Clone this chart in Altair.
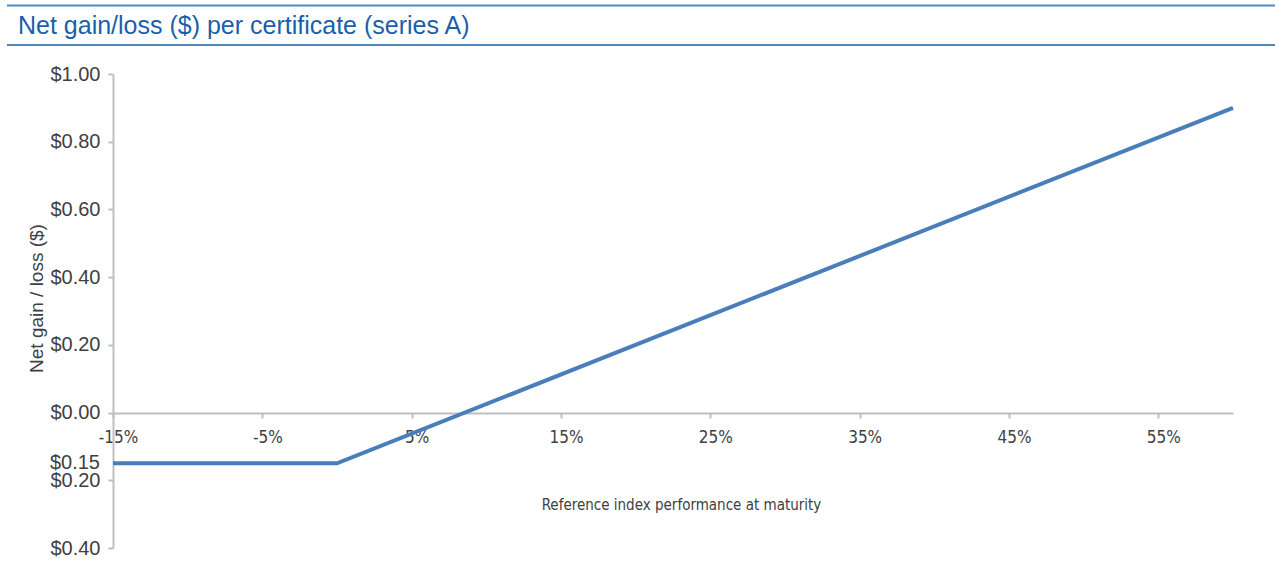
import altair as alt
import pandas as pd

# ---- data ----
perf_pct = [-15, 0, 60]              # reference index performance at maturity (%)
net_gain = [-0.15, -0.15, 0.90]      # net gain / loss ($)
x_tick_values = [-15, -5, 5, 15, 25, 35, 45, 55]
y_tick_values = [-0.4, -0.2, 0.0, 0.2, 0.4, 0.6, 0.8, 1.0]
extra_label_value = [-0.15]
extra_label_text = ["$0.15"]
chart_title = ["Net gain/loss ($) per certificate (series A)"]
x_title = "Reference index performance at maturity"
y_title = "Net gain / loss ($)"

line_df = pd.DataFrame({"perf": perf_pct, "gain": net_gain})
extra_df = pd.DataFrame({"gain": extra_label_value, "label": extra_label_text})
title_df = pd.DataFrame({"t": chart_title})

W, H = 1120, 474
LABEL_COLOR = "#404040"
AXIS_GRAY = "#bfbfbf"
BLUE_RULE = "#4f87c1"
COND = "DejaVu Sans Condensed"

x_enc = alt.X(
    "perf:Q",
    scale=alt.Scale(domain=[-15, 60], nice=False, zero=False),
    axis=alt.Axis(
        values=x_tick_values,
        labelExpr="datum.value + '%'",
        offset=-135,
        grid=False,
        domainColor=AXIS_GRAY, domainWidth=2,
        tickColor=AXIS_GRAY, tickWidth=2, tickSize=5,
        labelFont=COND, labelFontSize=17, labelColor=LABEL_COLOR,
        labelPadding=11, labelOffset=5, labelFlush=False,
        title=x_title, titleFont=COND, titleFontSize=15,
        titleFontWeight="normal", titleColor=LABEL_COLOR, titlePadding=52,
        titleX=568,
    ),
)
y_enc = alt.Y(
    "gain:Q",
    scale=alt.Scale(domain=[-0.4, 1.0], nice=False, zero=False),
    axis=alt.Axis(
        values=y_tick_values,
        labelExpr="'$' + format(abs(datum.value), '.2f')",
        grid=False,
        domainColor=AXIS_GRAY, domainWidth=2,
        tickColor=AXIS_GRAY, tickWidth=2, tickSize=5,
        labelFont="Liberation Sans", labelFontSize=20, labelColor=LABEL_COLOR,
        labelPadding=8,
        title=y_title, titleFont="Liberation Sans", titleFontSize=19,
        titleFontWeight="normal", titleColor=LABEL_COLOR,
        titleX=-77, titleY=224, titleAlign="center", titleBaseline="middle",
    ),
)

line = alt.Chart(line_df).mark_line(color="#4a7ebb", strokeWidth=4).encode(x=x_enc, y=y_enc)

extra = alt.Chart(extra_df).mark_text(
    align="right", baseline="middle", font="Liberation Sans", fontSize=20, color=LABEL_COLOR
).encode(x=alt.value(-13), y=alt.Y("gain:Q"), text="label:N")

title = alt.Chart(title_df).mark_text(
    align="left", baseline="alphabetic", font="Liberation Sans", fontSize=25, color="#1b5faa"
).encode(x=alt.value(-95), y=alt.value(-40), text="t:N")

rule_top = alt.Chart(title_df).mark_rule(color=BLUE_RULE, strokeWidth=2).encode(
    x=alt.value(-106), x2=alt.value(1162), y=alt.value(-68.5)
)
rule_bot = alt.Chart(title_df).mark_rule(color=BLUE_RULE, strokeWidth=2).encode(
    x=alt.value(-106), x2=alt.value(1162), y=alt.value(-29)
)

chart = alt.layer(rule_top, rule_bot, title, line, extra).properties(
    width=W, height=H,
    background="white",
    autosize=alt.AutoSizeParams(type="none"),
    padding={"left": 113, "top": 74, "right": 42, "bottom": 18},
).configure_view(strokeWidth=0)

chart.save("out.html", embed_options={"renderer": "svg", "actions": False})
